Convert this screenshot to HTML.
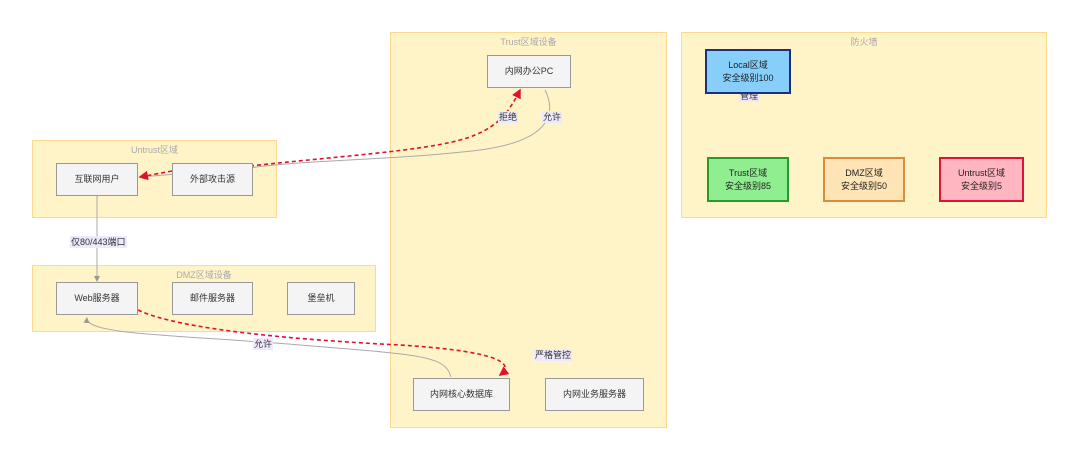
<!DOCTYPE html>
<html><head><meta charset="utf-8"><style>
body{margin:0;width:1080px;height:461px;background:#fff;position:relative;overflow:hidden;font-family:"Liberation Sans","Noto Sans CJK SC",sans-serif}
.g{position:absolute;background:#fff4c8;border:1px solid #fcd98e;box-sizing:border-box;z-index:0}
.g .t{position:absolute;top:2px;left:0;right:0;text-align:center;font-size:9px;color:#aaa}
.n{position:absolute;z-index:2;background:#f4f4f4;border:1px solid #999;box-sizing:border-box;display:flex;align-items:center;justify-content:center;font-size:9px;color:#333;text-align:center;line-height:13px}
.l{position:absolute;z-index:3;background:#ede8fb;font-size:9px;color:#333;padding:0 1px;line-height:12px}
svg{position:absolute;left:0;top:0;z-index:1}
</style></head><body>
<div class="g" style="left:32px;top:140px;width:245px;height:78px"><div class="t">Untrust区域</div></div>
<div class="g" style="left:32px;top:265px;width:344px;height:67px"><div class="t">DMZ区域设备</div></div>
<div class="g" style="left:390px;top:32px;width:277px;height:396px"><div class="t">Trust区域设备</div></div>
<div class="g" style="left:681px;top:32px;width:366px;height:186px"><div class="t">防火墙</div></div>
<div class="l" style="left:739px;top:90px;z-index:1">管理</div>
<div class="n" style="left:56px;top:163px;width:82px;height:33px">互联网用户</div>
<div class="n" style="left:172px;top:163px;width:81px;height:33px">外部攻击源</div>
<div class="n" style="left:56px;top:282px;width:82px;height:33px">Web服务器</div>
<div class="n" style="left:172px;top:282px;width:81px;height:33px">邮件服务器</div>
<div class="n" style="left:287px;top:282px;width:68px;height:33px">堡垒机</div>
<div class="n" style="left:487px;top:55px;width:84px;height:33px">内网办公PC</div>
<div class="n" style="left:413px;top:378px;width:97px;height:33px">内网核心数据库</div>
<div class="n" style="left:545px;top:378px;width:99px;height:33px">内网业务服务器</div>
<div class="n" style="left:705px;top:49px;width:86px;height:45px;background:#87cefa;border:2px solid #1e2f7a;color:#222">Local区域<br>安全级别100</div>
<div class="n" style="left:707px;top:157px;width:82px;height:45px;background:#90ee90;border:2px solid #2a9a2a;color:#222">Trust区域<br>安全级别85</div>
<div class="n" style="left:823px;top:157px;width:82px;height:45px;background:#ffe4b5;border:2px solid #d98c3a;color:#222">DMZ区域<br>安全级别50</div>
<div class="n" style="left:939px;top:157px;width:85px;height:45px;background:#ffb6c1;border:2px solid #dc143c;color:#222">Untrust区域<br>安全级别5</div>
<svg width="1080" height="461">
<defs>
<marker id="ag" markerWidth="6" markerHeight="6" refX="5" refY="3" orient="auto"><path d="M0,0L6,3L0,6z" fill="#999"/></marker>
<marker id="ar" markerWidth="6" markerHeight="6" refX="5" refY="3" orient="auto"><path d="M0,0L6,3L0,6z" fill="#e0102f"/></marker>
</defs>
<g fill="none" stroke="#aaa" stroke-width="1">
<path d="M545,90 C555,110 555,140 480,150 C400,160 300,160 250,168 L140,177" marker-end="url(#ag)"/>
<path d="M97,196 L97,281" marker-end="url(#ag)"/>
<path d="M451,377 C445,355 420,355 300,345 C180,335 85,335 87,318" marker-end="url(#ag)"/>
</g>
<g fill="none" stroke="#e0102f" stroke-width="1.6" stroke-dasharray="4,3">
<path d="M250,166 C350,155 440,150 475,135 C500,125 510,110 520,90" marker-end="url(#ar)"/>
<path d="M172,171 L140,177" marker-end="url(#ar)"/>
<path d="M138,310 C180,330 300,340 400,345 C480,350 520,360 500,375" marker-end="url(#ar)"/>
</g>
</svg>
<div class="l" style="left:498px;top:111px">拒绝</div>
<div class="l" style="left:542px;top:111px">允许</div>
<div class="l" style="left:70px;top:236px">仅80/443端口</div>
<div class="l" style="left:253px;top:338px">允许</div>
<div class="l" style="left:534px;top:349px">严格管控</div>
</body></html>
